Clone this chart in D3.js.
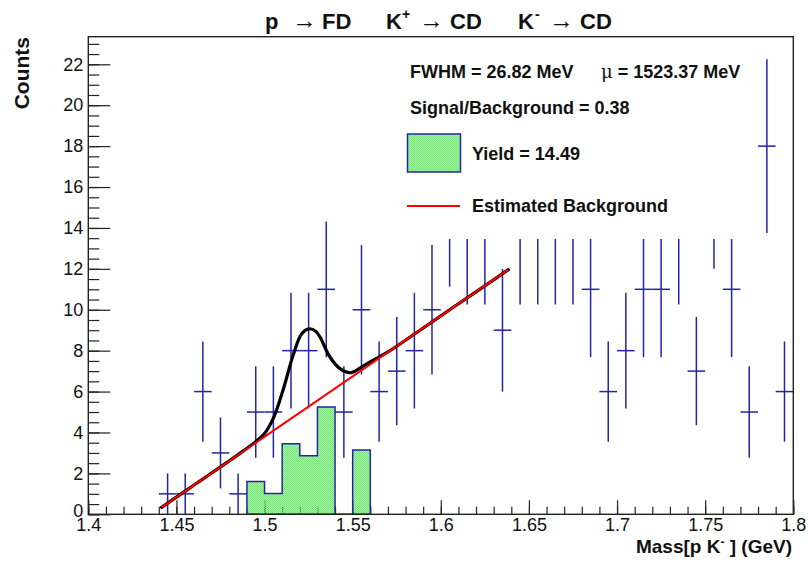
<!DOCTYPE html>
<html>
<head>
<meta charset="utf-8">
<script src="https://cdn.jsdelivr.net/npm/d3@7"></script>
<style>
  html, body { margin: 0; padding: 0; background: #fff; }
  svg { display: block; }
  text { font-family: "Liberation Sans", Arial, Helvetica, sans-serif; }
</style>
</head>
<body>
<svg id="chart" width="808" height="566"></svg>
<script>
// Invariant mass histogram of p K- candidates, 10 MeV bins
const binCenters = [1.445, 1.455, 1.465, 1.475, 1.485, 1.495, 1.505, 1.515, 1.525, 1.535,
                    1.545, 1.555, 1.565, 1.575, 1.585, 1.595, 1.605, 1.615, 1.625, 1.635,
                    1.645, 1.655, 1.665, 1.675, 1.685, 1.695, 1.705, 1.715, 1.725, 1.735,
                    1.745, 1.755, 1.765, 1.775, 1.785, 1.795];
const counts     = [1, 1, 6, 3, 1, 5, 5, 8, 8, 11,
                    5, 10, 6, 7, 8, 10, 15, 14, 14, 9,
                    14, 14, 14, 14, 11, 6, 8, 11, 11, 14,
                    7, 16, 11, 5, 18, 6];
const binWidth = 0.01;

// Background-subtracted signal histogram
const signalEdges  = [1.49, 1.50, 1.51, 1.52, 1.53, 1.54, 1.55, 1.56];
const signalValues = [1.60, 1.02, 3.45, 2.86, 5.25, 0, 3.14];

// Total fit (peak + linear background), sampled along the curve
const fitX = [1.4416, 1.4500, 1.4600, 1.4700, 1.4800, 1.4880, 1.4950, 1.5000, 1.5050, 1.5106,
              1.5163, 1.5211, 1.5254, 1.5290, 1.5315, 1.5371, 1.5428, 1.5485, 1.5540, 1.5597,
              1.5693, 1.5882, 1.6071, 1.6260, 1.6383];
const fitY = [0.34, 0.84, 1.43, 2.02, 2.61, 3.10, 3.55, 3.95, 4.70, 6.10,
              7.80, 8.83, 9.07, 8.95, 8.66, 7.69, 7.12, 6.92, 7.14, 7.44,
              7.90, 9.00, 10.12, 11.23, 11.96];

// Estimated linear background
const bgX = [1.4416, 1.6383];
const bgY = [0.34, 11.96];

// Axis ticks
const xTickValues = [1.4, 1.45, 1.5, 1.55, 1.6, 1.65, 1.7, 1.75, 1.8];
const xTickLabels = ["1.4", "1.45", "1.5", "1.55", "1.6", "1.65", "1.7", "1.75", "1.8"];
const yTickValues = [0, 2, 4, 6, 8, 10, 12, 14, 16, 18, 20, 22];

const xDomain = [1.4, 1.8];
const yDomain = [0, 23.35];

const svg = d3.select("#chart");
const frame = { left: 88.3, right: 793.3, top: 36.7, bottom: 514.3 };

const x = d3.scaleLinear().domain(xDomain).range([frame.left, frame.right]);
const y = d3.scaleLinear().domain(yDomain).range([frame.bottom, frame.top]);

const dataColor = "#2424a8";
const axisColor = "#222";

// Fill pattern for the signal histogram: half opaque, half see-through
const defs = svg.append("defs");
const pat = defs.append("pattern")
  .attr("id", "dots").attr("width", 2).attr("height", 2)
  .attr("patternUnits", "userSpaceOnUse");
pat.append("rect").attr("width", 2).attr("height", 2).attr("fill", "rgba(80,230,80,0.5)");
pat.append("rect").attr("x", 0).attr("y", 0).attr("width", 1).attr("height", 1).attr("fill", "#72e872");
pat.append("rect").attr("x", 1).attr("y", 1).attr("width", 1).attr("height", 1).attr("fill", "#72e872");

// ----- axes (ticks drawn inside the frame) -----
const xMinor = d3.range(0, 41).map(i => xDomain[0] + i * 0.01);
const yMinor = d3.range(0, 47).map(i => i * 0.5).filter(v => v <= yDomain[1]);

const gx = svg.append("g").attr("transform", `translate(0,${frame.bottom})`)
  .call(d3.axisBottom(x).tickValues(xMinor).tickSize(-7.5).tickFormat(""));
gx.select(".domain").remove();
const gxMaj = svg.append("g").attr("transform", `translate(0,${frame.bottom})`)
  .call(d3.axisBottom(x).tickValues(xTickValues).tickSize(-14).tickPadding(4)
        .tickFormat((d, i) => xTickLabels[i]));
gxMaj.select(".domain").remove();

const gy = svg.append("g").attr("transform", `translate(${frame.left},0)`)
  .call(d3.axisLeft(y).tickValues(yMinor).tickSize(-11).tickFormat(""));
gy.select(".domain").remove();
const gyMaj = svg.append("g").attr("transform", `translate(${frame.left},0)`)
  .call(d3.axisLeft(y).tickValues(yTickValues).tickSize(-22).tickPadding(5)
        .tickFormat(d3.format("d")));
gyMaj.select(".domain").remove();

svg.selectAll(".tick line").attr("stroke", axisColor).attr("stroke-width", 1.2);
gxMaj.selectAll(".tick text").attr("font-size", 18).attr("fill", "#111")
  .attr("font-family", "Liberation Sans, Arial, sans-serif").attr("dy", "0.7em");
gyMaj.selectAll(".tick text").attr("font-size", 18).attr("fill", "#111")
  .attr("font-family", "Liberation Sans, Arial, sans-serif")
  .attr("dy", d => d === 0 ? "0.12em" : "0.32em");

// ----- signal histogram -----
const stepPts = [[signalEdges[0], 0]];
signalValues.forEach((v, i) => {
  stepPts.push([signalEdges[i], v]);
  stepPts.push([signalEdges[i + 1], v]);
});
stepPts.push([signalEdges[signalEdges.length - 1], 0]);
const stepLine = d3.line().x(d => x(d[0])).y(d => y(d[1]));
svg.append("path")
  .attr("d", stepLine(stepPts) + "Z")
  .attr("fill", "url(#dots)")
  .attr("stroke", dataColor).attr("stroke-width", 1.5);

// ----- data points with Poisson error bars -----
const pts = svg.append("g").attr("stroke", dataColor).attr("stroke-width", 1.5);
binCenters.forEach((c, i) => {
  const n = counts[i];
  const e = Math.sqrt(n);
  pts.append("line")
    .attr("x1", x(c)).attr("x2", x(c))
    .attr("y1", y(Math.max(0, n - e))).attr("y2", y(n + e));
  pts.append("line")
    .attr("x1", x(c - binWidth / 2)).attr("x2", x(c + binWidth / 2))
    .attr("y1", y(n)).attr("y2", y(n));
});

// ----- fit curves -----
const fitLine = d3.line().x(d => x(d[0])).y(d => y(d[1])).curve(d3.curveCatmullRom.alpha(0.5));
svg.append("path")
  .attr("d", fitLine(fitX.map((v, i) => [v, fitY[i]])))
  .attr("fill", "none").attr("stroke", "#000").attr("stroke-width", 3.2)
  .attr("stroke-linecap", "round");
svg.append("path")
  .attr("d", d3.line().x(d => x(d[0])).y(d => y(d[1]))(bgX.map((v, i) => [v, bgY[i]])))
  .attr("fill", "none").attr("stroke", "#ff0000").attr("stroke-width", 2);

// ----- legend -----
const leg = svg.append("g");
leg.append("rect").attr("x", 395).attr("y", 48).attr("width", 355).attr("height", 191)
  .attr("fill", "#fff");
const legFont = 18;
const t1 = leg.append("text").attr("x", 410).attr("y", 78)
  .attr("font-size", legFont).attr("font-weight", "bold").attr("fill", "#111");
t1.append("tspan").text("FWHM = 26.82 MeV");
t1.append("tspan").attr("x", 601).attr("font-weight", "normal").attr("font-family", "DejaVu Serif, serif").text("μ");
t1.append("tspan").text(" = 1523.37 MeV");
leg.append("text").attr("x", 410).attr("y", 114)
  .attr("font-size", legFont).attr("font-weight", "bold").attr("fill", "#111")
  .text("Signal/Background = 0.38");
leg.append("rect").attr("x", 407.5).attr("y", 134).attr("width", 53).attr("height", 38)
  .attr("fill", "url(#dots)").attr("stroke", dataColor).attr("stroke-width", 1.5);
leg.append("text").attr("x", 472).attr("y", 160)
  .attr("font-size", legFont).attr("font-weight", "bold").attr("fill", "#111")
  .text("Yield = 14.49");
leg.append("line").attr("x1", 407).attr("x2", 460).attr("y1", 206).attr("y2", 206)
  .attr("stroke", "#ff0000").attr("stroke-width", 2);
leg.append("text").attr("x", 472).attr("y", 212)
  .attr("font-size", legFont).attr("font-weight", "bold").attr("fill", "#111")
  .text("Estimated Background");

// ----- frame -----
svg.append("rect")
  .attr("x", frame.left).attr("y", frame.top)
  .attr("width", frame.right - frame.left).attr("height", frame.bottom - frame.top)
  .attr("fill", "none").attr("stroke", axisColor).attr("stroke-width", 1.4);

// ----- titles -----
const title = svg.append("g").attr("font-size", 22).attr("font-weight", "bold").attr("fill", "#111");
const arrowFont = "DejaVu Sans, sans-serif";
const titleY = 29;
const arrow = ax => title.append("text").attr("x", ax).attr("y", titleY)
  .attr("font-weight", "normal").attr("font-family", arrowFont).attr("font-size", 25).text("→");
title.append("text").attr("x", 265).attr("y", titleY).text("p");
arrow(292);
title.append("text").attr("x", 322).attr("y", titleY).text("FD");
title.append("text").attr("x", 386).attr("y", titleY).text("K");
title.append("text").attr("x", 402).attr("y", titleY - 10).attr("font-size", 14).text("+");
arrow(419);
title.append("text").attr("x", 450).attr("y", titleY).text("CD");
title.append("text").attr("x", 518).attr("y", titleY).text("K");
title.append("text").attr("x", 535).attr("y", titleY - 10).attr("font-size", 14).text("-");
arrow(549);
title.append("text").attr("x", 580).attr("y", titleY).text("CD");

const xt = svg.append("text").attr("x", 792).attr("y", 553).attr("text-anchor", "end")
  .attr("font-size", 19).attr("font-weight", "bold").attr("fill", "#111");
xt.append("tspan").text("Mass[p K");
xt.append("tspan").attr("dy", -7).attr("font-size", 12).text("-");
xt.append("tspan").attr("dy", 7).text(" ] (GeV)");

svg.append("text")
  .attr("transform", "translate(29,37) rotate(-90)")
  .attr("text-anchor", "end")
  .attr("font-size", 21).attr("font-weight", "bold").attr("fill", "#111")
  .text("Counts");
</script>
</body>
</html>
